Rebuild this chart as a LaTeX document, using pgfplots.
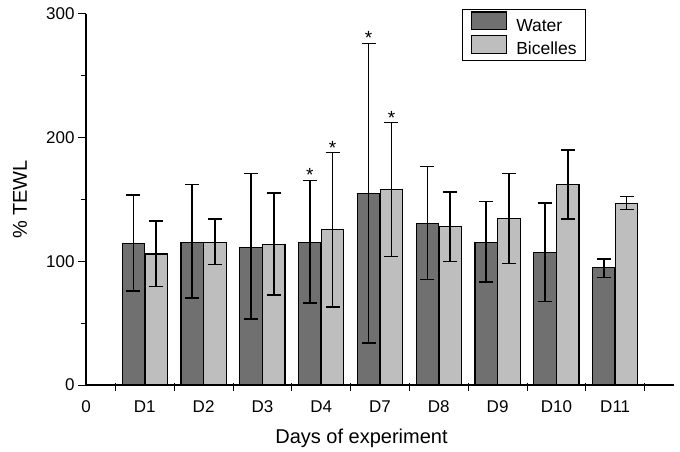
\documentclass[border=0pt]{standalone}
\usepackage{fontspec}
\setmainfont{Liberation Sans}
\usepackage{pgfplots}
\pgfplotsset{compat=1.18}
\usepackage{pgfplotstable}
\definecolor{waterfill}{RGB}{112,112,112}
\definecolor{bicfill}{RGB}{190,190,190}

% x: 1=D1 ... 4=D4, 5=D7 ... 9=D11 ; ep/em = error plus/minus
\pgfplotstableread{
x y ep em
1 114.6 38.9 38.4
2 115.2 46.8 44.9
3 111.4 59.5 58.1
4 115.2 50.2 48.7
5 154.7 121.6 120.9
6 130.8 46.0 45.6
7 115.4 33.0 31.9
8 107.0 40.3 39.4
9 94.9 7.0 7.9
}\water
\pgfplotstableread{
x y ep em
1 106.0 26.4 26.5
2 115.2 19.2 17.9
3 113.5 41.7 40.5
4 125.7 62.2 62.4
5 157.9 54.3 53.9
6 128.1 27.9 28.1
7 134.4 36.5 36.0
8 162.0 27.8 27.6
9 146.5 6.0 4.6
}\bicelles

\begin{document}
\begin{tikzpicture}
\begin{axis}[
  scale only axis,
  width=588bp, height=371bp,
  xmin=0, xmax=10, ymin=0, ymax=300,
  ybar, bar width=0.38,
  axis lines=left,
  axis line style={-, line width=1.1bp},
  tick align=outside,
  major tick length=8bp, minor tick length=5bp,
  tick style={black, line width=1bp},
  % separators between days; each label sits half a slot to the left
  xtick={0.5,1.5,...,9.5},
  xticklabels={0,D1,D2,D3,D4,D7,D8,D9,D10,D11},
  xtick style={yshift=2bp},
  xticklabel style={anchor=base, xshift=-29.4bp, yshift=-19bp},
  ytick={0,100,200,300},
  minor ytick={50,150,250},
  /pgf/number format/assume math mode=true,
  tick label style={font=\fontsize{17bp}{20bp}\selectfont},
  xlabel={Days of experiment},
  ylabel={\% TEWL},
  label style={font=\fontsize{20bp}{24bp}\selectfont},
  xlabel style={at={(rel axis cs:0.4686,0)}, anchor=base, yshift=-58bp},
  ylabel style={at={(axis description cs:-0.1122,0.5)}, anchor=center},
  legend cell align=left,
  legend style={at={(rel axis cs:0.8503,1.0135)}, anchor=north east,
    draw=black, line width=0.8bp, inner xsep=9bp, inner ysep=2bp,
    row sep=0bp, column sep=9bp,
    font=\fontsize{17.5bp}{21bp}\selectfont,
    nodes={inner sep=0pt, text height=12.5bp, text depth=3.6bp}},
  legend image code/.code={\draw[#1,/tikz/.cd,line width=1.2bp] (0bp,-2.8bp) rectangle (35bp,14.9bp);},
  error bars/error bar style={line width=1.6bp, black},
  error bars/error mark=|,
  error bars/error mark options={draw=black, line width=1.6bp, mark size=7bp},
]
\addplot[bar shift=-0.195, fill=waterfill, draw=black, line width=1.2bp,
  error bars/.cd, y dir=both, y explicit]
  table[x=x, y=y, y error plus=ep, y error minus=em] {\water};
\addplot[bar shift=0.195, fill=bicfill, draw=black, line width=1.2bp,
  error bars/.cd, y dir=both, y explicit]
  table[x=x, y=y, y error plus=ep, y error minus=em] {\bicelles};
\legend{Water,Bicelles}
% significance stars: invisible bars up to the upper caps
\addplot[forget plot, bar shift=-0.195, draw=none, fill=none,
  nodes near coords={*}, nodes near coords align={anchor=base},
  every node near coord/.append style={font=\fontsize{19bp}{21bp}\selectfont, yshift=-1.5bp, inner sep=0pt}]
  coordinates {(4,165.4) (5,276.3)};
\addplot[forget plot, bar shift=0.195, draw=none, fill=none,
  nodes near coords={*}, nodes near coords align={anchor=base},
  every node near coord/.append style={font=\fontsize{19bp}{21bp}\selectfont, yshift=-1.5bp, inner sep=0pt}]
  coordinates {(4,187.9) (5,212.2)};
\end{axis}
\pgfresetboundingbox
\path[use as bounding box] (-86bp,-67bp) rectangle (594bp,385bp);
\end{tikzpicture}
\end{document}
